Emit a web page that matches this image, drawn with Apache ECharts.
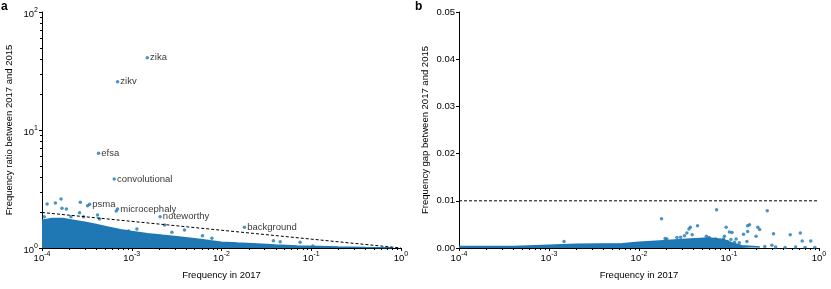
<!DOCTYPE html>
<html><head><meta charset="utf-8">
<script src="https://cdn.jsdelivr.net/npm/echarts@6/dist/echarts.min.js"></script>
<style>html,body{margin:0;padding:0;background:#fff}#c{width:831px;height:289px}</style>
</head><body><div id="c"></div>
<script>
// ---------- Panel a : frequency ratio ----------
const ratioCloudEdge = [
  [1.0e-4,1.72],[1.3e-4,1.78],[1.7e-4,1.78],[2.2e-4,1.72],[3.0e-4,1.65],[4.0e-4,1.58],
  [5.5e-4,1.50],[7.5e-4,1.43],[1.0e-3,1.38],[1.5e-3,1.32],[2.2e-3,1.28],[3.0e-3,1.25],
  [5.0e-3,1.20],[7.5e-3,1.15],[1.0e-2,1.12],[1.5e-2,1.10],[2.5e-2,1.08],[4.0e-2,1.06],
  [7.0e-2,1.04],[1.2e-1,1.03],[2.0e-1,1.02],[4.0e-1,1.01],[8.0e-1,1.005]
];
const ratioPoints = [
  [1.14e-4,2.36],[1.41e-4,2.41],[1.63e-4,2.60],[1.67e-4,2.17],[1.87e-4,2.14],[2.67e-4,2.44],
  [3.22e-4,2.28],[2.10e-4,1.84],[2.90e-4,1.84],[4.38e-4,1.76],[6.71e-4,2.06],[1.06e-4,1.84],
  [1.14e-3,1.45],[2.32e-3,1.57],[2.80e-3,1.36],[3.87e-3,1.42],[6.14e-3,1.27],[7.81e-3,1.21],
  [9.2e-4,1.39],[3.79e-2,1.15],[4.51e-2,1.13],[7.52e-2,1.12],[4.16e-4,1.90],[2.62e-4,1.99],
  [1.04e-1,1.04]
];
const labeledX = [1.49e-3, 6.95e-4, 4.27e-4, 6.38e-4, 3.39e-4, 6.95e-4, 2.07e-3, 1.80e-2];
const labeledY = [41.0, 25.7, 6.35, 3.84, 2.35, 2.14, 1.84, 1.50];
const labeledNames = ['zika','zikv','efsa','convolutional','psma','microcephaly','noteworthy','background'];
const ratioThreshold = [[1e-4,2],[1,1]];

// ---------- Panel b : frequency gap ----------
const gapCloudEdge = [
  [1.0e-4,0.0003],[4.0e-4,0.0003],[7.0e-4,0.0005],[2.0e-3,0.0008],[6.5e-3,0.0009],
  [1.0e-2,0.0012],[1.7e-2,0.0015],[3.7e-2,0.0019],[6.0e-2,0.0021],[8.6e-2,0.0018],
  [1.1e-1,0.0010],[1.4e-1,0.0005],[2.2e-1,0.0002]
];
const gapPoints = [
  [1.47e-3,0.0014],[0.0178,0.0062],[0.0728,0.0081],[0.266,0.0079],[0.0359,0.0040],[0.0372,0.0044],
  [0.0447,0.0047],[0.0929,0.0044],[0.108,0.0033],[0.161,0.0047],[0.169,0.0049],[0.161,0.0035],
  [0.209,0.0044],[0.219,0.0039],[0.312,0.0030],[0.479,0.0028],[0.62,0.0032],[0.65,0.0015],
  [0.81,0.0015],[0.30,0.0006],[0.20,0.0025],[0.145,0.0029],[0.12,0.0019],[0.115,0.0012],
  [0.13,0.0011],[0.089,0.0025],[0.087,0.0019],[0.096,0.0014],[0.105,0.0018],[0.071,0.0019],
  [0.077,0.0016],[0.056,0.0025],[0.060,0.0022],[0.034,0.0032],[0.039,0.0028],[0.029,0.0023],
  [0.032,0.0026],[0.0204,0.0019],[0.158,0.0014],[0.101,0.0034],[0.0264,0.0022],[0.0195,0.0020],
  [0.25,0.0003],[0.33,0.0002],[0.42,0.0001],[0.55,0.0002],[0.7,0.0001],[0.9,0.0001]
];
const gapThreshold = [[1e-4,0.01],[1,0.01]];

// ---------- axis ticks ----------
const xMinorTicks = [];
[1e-4,1e-3,1e-2,1e-1].forEach(d => { for (let k = 2; k <= 9; k++) xMinorTicks.push(+(k*d).toPrecision(3)); });
const yMinorTicksA = [];
[1,10].forEach(d => { for (let k = 2; k <= 9; k++) yMinorTicksA.push(k*d); });

const BLUE = '#1f77b4';
const FONT = 'Liberation Sans, Arial, Helvetica, sans-serif';
const FS = 9.5;

const chart = echarts.init(document.getElementById('c'), null, {renderer:'canvas'});

const powRich = {
  b: {fontSize: FS, fontFamily: FONT, color: '#000', lineHeight: 11, padding: [4,0,0,0]},
  s: {fontSize: 7, fontFamily: FONT, color: '#000', lineHeight: 8, verticalAlign: 'top'}
};
const powFmt = v => '{b|10}{s|' + Math.round(Math.log10(v)) + '}';

function logXAxis(gi) {
  return {
    type: 'log', logBase: 10, gridIndex: gi, min: 1e-4, max: 1, splitNumber: 4,
    name: 'Frequency in 2017', nameLocation: 'middle', nameGap: 22,
    nameTextStyle: {fontSize: FS, fontFamily: FONT, color: '#000'},
    axisLine: {show: true, onZero: false, lineStyle: {color: '#000', width: 1}},
    axisTick: {show: true, inside: false, length: 3, lineStyle: {color: '#000'}},
    axisLabel: {formatter: powFmt, rich: powRich, margin: 3},
    splitLine: {show: false}, minorTick: {show: false}
  };
}

function tickSeries(xi, yi, data, dir) {
  return {
    type: 'custom', xAxisIndex: xi, yAxisIndex: yi, data: data, silent: true, clip: false, z: 10,
    renderItem: (params, api) => {
      const p = api.coord([api.value(0), api.value(1)]);
      if (dir === 'down') {
        const x = Math.round(p[0]) + 0.5, y = Math.round(p[1]);
        return {type: 'line', shape: {x1: x, y1: y, x2: x, y2: y + 2}, style: {stroke: '#000', lineWidth: 1}};
      } else {
        const y = Math.round(p[1]) + 0.5, x = Math.round(p[0]);
        return {type: 'line', shape: {x1: x, y1: y, x2: x - 2, y2: y}, style: {stroke: '#000', lineWidth: 1}};
      }
    }
  };
}

const option = {
  animation: false,
  backgroundColor: '#fff',
  title: [
    {text: 'a', left: 1, top: 1, padding: 0, textStyle: {fontSize: 12, fontWeight: 'bold', fontFamily: FONT, color: '#000'}},
    {text: 'b', left: 415, top: 1, padding: 0, textStyle: {fontSize: 12, fontWeight: 'bold', fontFamily: FONT, color: '#000'}}
  ],
  grid: [
    {left: 42, top: 12, width: 359, height: 236},
    {left: 459, top: 12, width: 360, height: 236}
  ],
  xAxis: [logXAxis(0), logXAxis(1)],
  yAxis: [
    {
      type: 'log', logBase: 10, gridIndex: 0, min: 1, max: 100, splitNumber: 2,
      name: 'Frequency ratio between 2017 and 2015', nameLocation: 'middle', nameGap: 28, nameRotate: 90,
      nameTextStyle: {fontSize: FS, fontFamily: FONT, color: '#000'},
      axisLine: {show: true, onZero: false, lineStyle: {color: '#000', width: 1}},
      axisTick: {show: true, length: 3, lineStyle: {color: '#000'}},
      axisLabel: {formatter: powFmt, rich: powRich, margin: 4},
      splitLine: {show: false}
    },
    {
      type: 'value', gridIndex: 1, min: 0, max: 0.05, interval: 0.01,
      name: 'Frequency gap between 2017 and 2015', nameLocation: 'middle', nameGap: 29, nameRotate: 90,
      nameTextStyle: {fontSize: FS, fontFamily: FONT, color: '#000'},
      axisLine: {show: true, onZero: false, lineStyle: {color: '#000', width: 1}},
      axisTick: {show: true, length: 3, lineStyle: {color: '#000'}},
      axisLabel: {formatter: v => v.toFixed(2), fontSize: FS, fontFamily: FONT, color: '#000', margin: 4},
      splitLine: {show: false}
    }
  ],
  series: [
    // panel a
    {type: 'line', xAxisIndex: 0, yAxisIndex: 0, data: ratioCloudEdge, showSymbol: false, symbol: 'none',
     lineStyle: {color: BLUE, width: 1.5}, areaStyle: {color: BLUE, opacity: 1, origin: 'start'}, z: 2, silent: true},
    {type: 'scatter', xAxisIndex: 0, yAxisIndex: 0, data: ratioPoints, symbolSize: 3.5,
     itemStyle: {color: BLUE}, z: 3, silent: true},
    {type: 'scatter', xAxisIndex: 0, yAxisIndex: 0, symbolSize: 3.5, itemStyle: {color: BLUE}, z: 4, silent: true,
     data: labeledX.map((x, i) => ({value: [x, labeledY[i]], name: labeledNames[i]})),
     label: {show: true, position: 'right', distance: 1, formatter: p => p.name,
             fontSize: FS, fontFamily: FONT, color: '#000'}},
    {type: 'line', xAxisIndex: 0, yAxisIndex: 0, data: ratioThreshold, showSymbol: false, symbol: 'none',
     lineStyle: {color: '#000', width: 1, type: [3, 2]}, z: 5, silent: true},
    tickSeries(0, 0, xMinorTicks.map(v => [v, 1]), 'down'),
    tickSeries(0, 0, yMinorTicksA.map(v => [1e-4, v]), 'left'),
    // panel b
    {type: 'line', xAxisIndex: 1, yAxisIndex: 1, data: gapCloudEdge, showSymbol: false, symbol: 'none',
     lineStyle: {color: BLUE, width: 1.5}, areaStyle: {color: BLUE, opacity: 1, origin: 'start'}, z: 2, silent: true},
    {type: 'scatter', xAxisIndex: 1, yAxisIndex: 1, data: gapPoints, symbolSize: 3.5,
     itemStyle: {color: BLUE}, z: 3, silent: true},
    {type: 'line', xAxisIndex: 1, yAxisIndex: 1, data: gapThreshold, showSymbol: false, symbol: 'none',
     lineStyle: {color: '#000', width: 1, type: [3, 2]}, z: 5, silent: true},
    tickSeries(1, 1, xMinorTicks.map(v => [v, 0]), 'down')
  ]
};
chart.setOption(option);
</script>
</body></html>
